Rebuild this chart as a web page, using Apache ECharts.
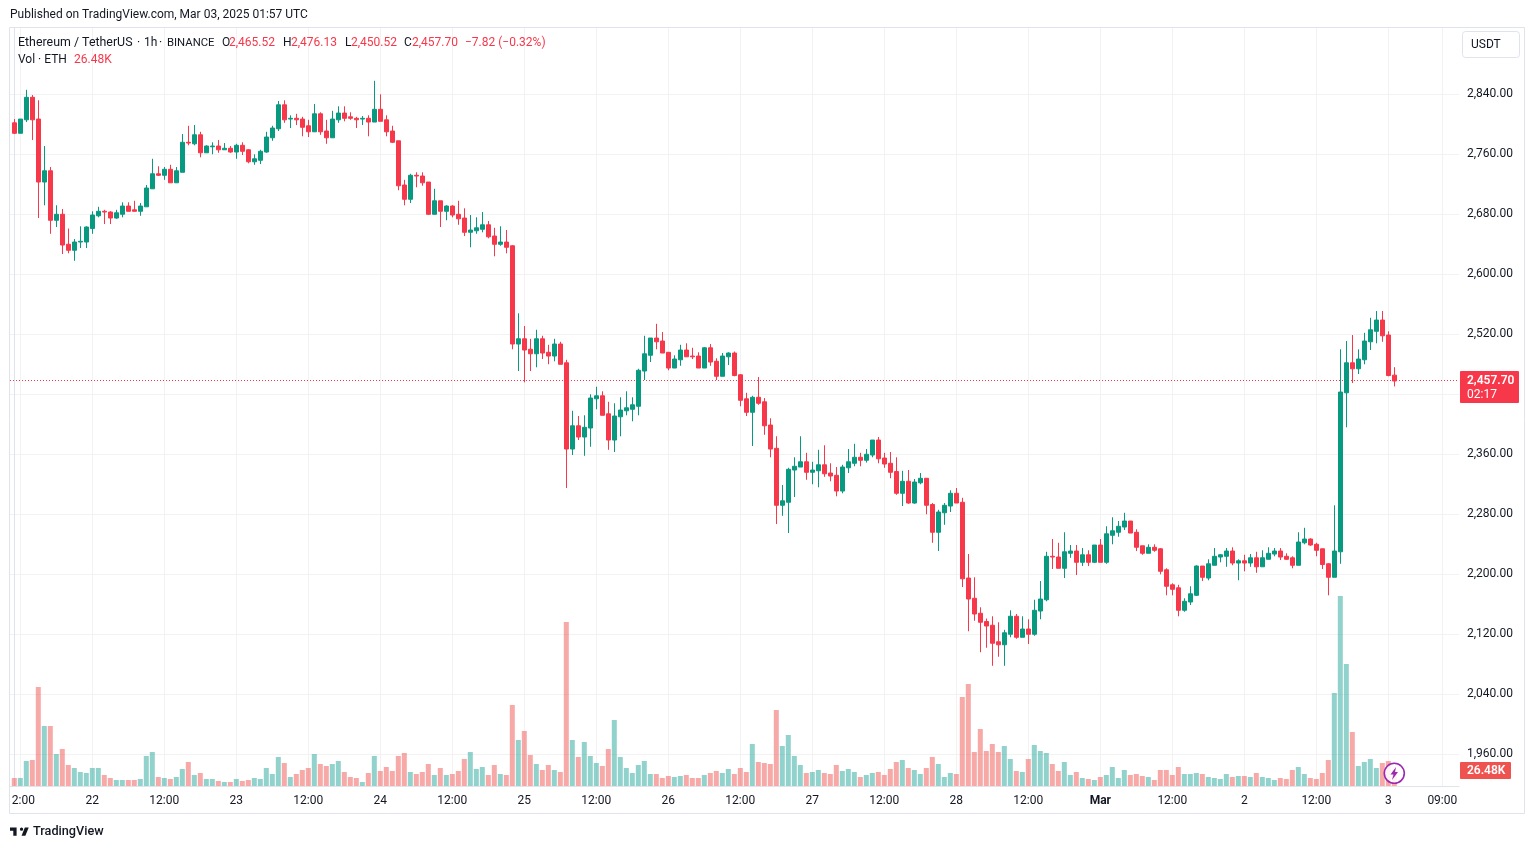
<!DOCTYPE html>
<html>
<head>
<meta charset="utf-8">
<title>ETHUSDT 1h</title>
<script src="https://cdn.jsdelivr.net/npm/echarts@6/dist/echarts.min.js"></script>
<style>
  html, body { margin: 0; padding: 0; background: #fff; }
  #main { width: 1534px; height: 849px; }
</style>
</head>
<body>
<div id="main"></div>
<script>
// ETHUSDT 1h candles, one per hour, index 0 = Feb 21 11:00
var opens = [
  2802,2788,2806,2836,2807,2723,2738,2672,2680,2640,
  2632,2643,2643,2661,2678,2684,2683,2675,2680,2691,
  2686,2684,2690,2714,2734,2732,2740,2722,2736,2776,
  2774,2786,2762,2770,2771,2766,2768,2763,2772,2766,
  2750,2752,2763,2782,2794,2826,2807,2808,2807,2798,
  2790,2814,2791,2782,2806,2815,2810,2808,2807,2808,
  2803,2820,2806,2791,2778,2719,2700,2732,2731,2723,
  2680,2698,2684,2691,2680,2675,2656,2658,2660,2666,
  2651,2640,2643,2638,2507,2514,2500,2494,2514,2496,
  2491,2507,2482,2367,2398,2383,2395,2434,2438,2414,
  2379,2410,2418,2420,2424,2471,2492,2515,2511,2496,
  2475,2486,2499,2491,2491,2475,2502,2484,2464,2490,
  2495,2466,2434,2416,2436,2430,2399,2368,2292,2296,
  2339,2343,2350,2336,2338,2346,2335,2332,2311,2342,
  2348,2356,2352,2359,2379,2355,2348,2337,2308,2324,
  2295,2322,2328,2293,2256,2282,2291,2308,2296,2195,
  2168,2148,2137,2132,2110,2106,2120,2144,2116,2127,
  2120,2151,2166,2224,2223,2208,2228,2231,2216,2226,
  2216,2239,2216,2252,2256,2263,2271,2256,2238,2228,
  2236,2234,2206,2186,2182,2152,2163,2172,2211,2195,
  2212,2223,2224,2231,2215,2218,2215,2222,2210,2220,
  2227,2231,2224,2222,2212,2242,2247,2240,2234,2214,
  2196,2230,2442,2482,2474,2486,2510,2524,2539,2519,
  2465.52
];
var highs = [
  2807,2807,2846,2839,2832,2771,2743,2692,2687,2661,
  2647,2664,2664,2684,2690,2686,2684,2686,2696,2696,
  2698,2695,2719,2754,2744,2743,2746,2743,2787,2798,
  2799,2790,2772,2776,2779,2775,2771,2774,2776,2767,
  2760,2766,2790,2798,2831,2832,2812,2814,2810,2806,
  2827,2816,2806,2818,2824,2824,2816,2810,2811,2812,
  2858,2840,2812,2798,2778,2726,2734,2736,2736,2723,
  2714,2698,2692,2692,2698,2688,2679,2676,2683,2671,
  2662,2664,2659,2639,2548,2531,2514,2526,2518,2506,
  2514,2510,2486,2418,2411,2412,2440,2450,2444,2430,
  2428,2436,2444,2436,2474,2518,2515,2534,2523,2496,
  2492,2506,2508,2502,2496,2503,2507,2488,2495,2496,
  2497,2467,2442,2438,2463,2435,2408,2384,2319,2342,
  2356,2384,2362,2350,2366,2372,2348,2343,2346,2367,
  2374,2362,2367,2379,2383,2362,2363,2356,2338,2339,
  2327,2335,2328,2295,2286,2295,2312,2315,2302,2227,
  2196,2156,2141,2144,2136,2126,2152,2147,2144,2140,
  2166,2191,2230,2247,2242,2256,2239,2239,2235,2232,
  2239,2247,2264,2276,2271,2282,2271,2260,2238,2240,
  2240,2235,2208,2188,2186,2168,2184,2212,2211,2220,
  2235,2227,2235,2236,2220,2226,2227,2230,2232,2236,
  2235,2235,2228,2224,2256,2262,2248,2242,2234,2215,
  2292,2500,2511,2519,2500,2522,2542,2551,2551,2524,
  2476.13
];
var lows = [
  2787,2788,2803,2779,2675,2692,2654,2663,2627,2628,
  2618,2635,2635,2654,2676,2667,2667,2674,2676,2684,
  2684,2678,2690,2714,2731,2726,2722,2722,2736,2772,
  2772,2756,2762,2760,2762,2766,2762,2754,2759,2748,
  2746,2747,2762,2778,2791,2802,2795,2799,2784,2783,
  2790,2786,2774,2782,2802,2804,2806,2795,2799,2784,
  2803,2804,2784,2775,2712,2692,2695,2716,2718,2679,
  2680,2663,2672,2676,2666,2651,2636,2654,2656,2648,
  2624,2638,2628,2500,2471,2456,2471,2476,2487,2480,
  2484,2480,2315,2359,2379,2358,2370,2420,2412,2366,
  2363,2384,2412,2404,2412,2459,2483,2500,2495,2472,
  2475,2478,2490,2487,2475,2475,2478,2459,2464,2479,
  2464,2424,2411,2371,2426,2386,2356,2267,2278,2255,
  2303,2343,2326,2320,2316,2330,2324,2304,2308,2335,
  2344,2344,2349,2356,2348,2342,2328,2306,2291,2294,
  2294,2320,2280,2242,2231,2266,2283,2295,2183,2124,
  2138,2096,2102,2078,2090,2078,2116,2114,2116,2107,
  2118,2140,2164,2207,2208,2195,2222,2199,2211,2211,
  2215,2216,2214,2240,2250,2259,2255,2231,2226,2228,
  2230,2200,2172,2172,2144,2150,2159,2171,2191,2192,
  2212,2216,2210,2212,2192,2204,2210,2202,2210,2220,
  2224,2219,2219,2208,2212,2240,2238,2224,2207,2172,
  2196,2214,2396,2455,2467,2480,2499,2508,2510,2464,
  2450.52
];
var closes = [
  2788,2807,2836,2806,2723,2738,2672,2680,2639,2632,
  2643,2644,2663,2679,2684,2683,2675,2682,2691,2684,
  2684,2691,2715,2734,2732,2740,2722,2738,2776,2775,
  2786,2762,2771,2771,2766,2768,2763,2772,2764,2750,
  2754,2764,2783,2795,2826,2806,2808,2806,2796,2790,
  2814,2790,2782,2807,2815,2808,2808,2806,2808,2803,
  2820,2804,2790,2776,2718,2700,2732,2731,2722,2680,
  2698,2684,2691,2679,2674,2656,2659,2662,2666,2650,
  2640,2643,2636,2507,2514,2499,2494,2514,2495,2491,
  2507,2480,2367,2398,2383,2396,2435,2438,2412,2379,
  2411,2419,2422,2426,2472,2494,2515,2510,2495,2475,
  2487,2499,2490,2490,2475,2502,2483,2464,2491,2495,
  2465,2432,2416,2436,2428,2398,2367,2292,2298,2340,
  2344,2350,2336,2339,2346,2334,2331,2311,2343,2350,
  2356,2352,2360,2379,2354,2347,2336,2308,2324,2295,
  2323,2328,2292,2256,2283,2292,2308,2295,2194,2167,
  2147,2136,2131,2108,2106,2122,2144,2116,2127,2120,
  2152,2167,2224,2223,2208,2230,2231,2216,2226,2216,
  2239,2216,2254,2258,2264,2271,2255,2236,2228,2236,
  2232,2204,2184,2180,2152,2164,2174,2211,2196,2214,
  2224,2226,2231,2215,2218,2215,2222,2210,2222,2228,
  2231,2223,2220,2212,2243,2247,2239,2232,2213,2196,
  2231,2443,2482,2474,2487,2511,2526,2539,2518,2465,
  2457.70
];
// volume in thousands of ETH
var volumes = [
  13.2,13.2,41.4,43,163.9,99.3,99.3,53,61.2,34.8,
  29.8,23.2,21.5,29.8,29.8,18.2,13.2,9.9,9.9,9.9,
  9.9,11.6,49.7,56.3,14.9,13.2,11.6,14.9,28.1,39.7,
  18.2,21.5,11.6,11.6,8.3,6.6,6.6,11.6,8.3,9.9,
  13.2,11.6,29.8,19.9,48,38.1,14.9,19.9,26.5,29.8,
  53,36.4,33.1,36.4,41.4,23.2,14.9,13.2,6.6,21.5,
  49.7,24.8,31.4,24.8,49.7,54.6,23.2,19.9,23.2,36.4,
  18.2,29.8,18.2,19.9,24.8,44.7,56.3,28.1,31.4,18.2,
  34.8,19.9,18.2,134.1,76.1,91,51.3,36.4,26.5,34.8,
  26.5,23.2,271.4,76.1,48,72.8,49.7,38.1,33.1,61.2,
  109.2,48,29.8,21.5,34.8,41.4,19.9,19.9,13.2,16.6,
  14.9,16.6,18.2,13.2,13.2,18.2,21.5,24.8,21.5,28.1,
  19.9,29.8,23.2,69.5,39.7,38.1,36.4,125.8,66.2,84.4,
  49.7,34.8,21.5,23.2,26.5,21.5,19.9,34.8,24.8,28.1,
  23.2,14.9,18.2,21.5,23.2,18.2,28.1,39.7,43,29.8,
  26.5,19.9,29.8,48,36.4,14.9,21.5,19.9,147.3,168.8,
  56.3,94.3,57.9,69.5,56.3,66.2,44.7,24.8,23.2,44.7,
  67.9,57.9,54.6,36.4,24.8,39.7,18.2,23.2,13.2,11.6,
  9.9,14.9,18.2,31.4,13.2,26.5,18.2,19.9,16.6,14.9,
  9.9,26.5,26.5,18.2,31.4,19.9,19.9,21.5,19.9,14.9,
  13.2,11.6,19.9,14.9,16.6,16.6,14.9,21.5,14.9,13.2,
  9.9,13.2,11.6,26.5,31.4,19.9,13.2,11.6,21.5,43,
  153.9,314.5,201.9,89.4,33.1,39.7,44.7,29.8,38.1,41.4,
  26.48
];

var priceTicks = [1960, 2040, 2120, 2200, 2280, 2360, 2440, 2520, 2600, 2680, 2760, 2840];
var timeTicks = [1, 13, 25, 37, 49, 61, 73, 85, 97, 109, 121, 133, 145, 157, 169, 181, 193, 205, 217, 229, 238];
var timeLabels = ['2:00', '22', '12:00', '23', '12:00', '24', '12:00', '25', '12:00', '26', '12:00', '27', '12:00', '28', '12:00', 'Mar', '12:00', '2', '12:00', '3', '09:00'];

var UP = '#089981';
var DOWN = '#F7374A';
var TEXT = '#131722';
var BORDER = '#E0E3EB';
var GRIDLINE = '#F2F2F3';
var FONT = 'Roboto';

var chart = echarts.init(document.getElementById('main'), null, { renderer: 'canvas' });

var candleData = opens.map(function (o, i) {
  return [i, o, closes[i], lows[i], highs[i]];
});
var volumeData = volumes.map(function (v, i) {
  return {
    value: [i, v],
    itemStyle: { color: closes[i] >= opens[i] ? 'rgba(38,166,154,0.5)' : 'rgba(239,83,80,0.5)' }
  };
});

// the first label is "12:00" cut by the pane edge, so its remainder sits a bit to the right
var labelHours = timeTicks.slice();
labelHours[0] += 0.5;

var lastClose = closes[closes.length - 1];
var lastVolume = volumes[volumes.length - 1];

function formatPrice(v) {
  return v.toLocaleString('en-US', { minimumFractionDigits: 2, maximumFractionDigits: 2 });
}

chart.setOption({
  animation: false,
  backgroundColor: '#fff',
  textStyle: { fontFamily: FONT },
  grid: { left: 10, right: 75, top: 28, bottom: 63, containLabel: false },
  xAxis: {
    type: 'value',
    min: -0.717,
    max: 240.78,
    axisLine: { show: true, onZero: false, lineStyle: { color: BORDER, width: 1 } },
    axisTick: { show: false, customValues: timeTicks },
    splitLine: { show: true, lineStyle: { color: GRIDLINE, width: 1 } },
    axisLabel: {
      customValues: labelHours,
      color: TEXT,
      fontSize: 12,
      fontFamily: FONT,
      margin: 9,
      hideOverlap: false,
      showMinLabel: true,
      showMaxLabel: true,
      formatter: function (v) {
        var t = timeLabels[labelHours.indexOf(v)];
        return t === 'Mar' ? '{b|Mar}' : t;
      },
      rich: { b: { fontWeight: 700, fontSize: 12, color: TEXT, fontFamily: FONT } }
    }
  },
  yAxis: [
    {
      type: 'value',
      position: 'right',
      min: 1917.7,
      max: 2928.4,
      axisLine: { show: true, lineStyle: { color: BORDER, width: 1 } },
      axisTick: { show: false, customValues: priceTicks },
      splitLine: { show: true, lineStyle: { color: GRIDLINE, width: 1 } },
      axisLabel: {
        customValues: priceTicks,
        color: TEXT,
        fontSize: 12,
        fontFamily: FONT,
        margin: 8,
        formatter: formatPrice
      }
    },
    {
      type: 'value',
      show: false,
      position: 'right',
      min: 0,
      max: 1254.5,
      splitLine: { show: false }
    }
  ],
  series: [
    {
      name: 'Vol',
      type: 'bar',
      xAxisIndex: 0,
      yAxisIndex: 1,
      barWidth: 5,
      silent: true,
      data: volumeData
    },
    {
      name: 'ETHUSDT',
      type: 'candlestick',
      xAxisIndex: 0,
      yAxisIndex: 0,
      barWidth: 5,
      silent: true,
      encode: { x: 0, y: [1, 2, 3, 4] },
      itemStyle: {
        color: UP,
        color0: DOWN,
        borderColor: UP,
        borderColor0: DOWN,
        borderWidth: 1
      },
      data: candleData
    }
  ]
});

function txt(x, y, text, color, extra) {
  return {
    type: 'text',
    x: x,
    y: y,
    silent: true,
    z: 20,
    style: Object.assign({
      text: text,
      fill: color || TEXT,
      font: '12px ' + FONT,
      verticalAlign: 'middle'
    }, extra || {})
  };
}

// TradingView mark, drawn on a 36 unit wide design grid
function logoPoints(points) {
  return points.map(function (p) {
    return [10 + (p[0] - 2) * 0.55, 827.5 + (p[1] - 6) * 0.55];
  });
}

var priceY = chart.convertToPixel({ yAxisIndex: 0 }, lastClose);
var volY = chart.convertToPixel({ yAxisIndex: 1 }, lastVolume);
var lineY = Math.round(priceY) - 0.5;

chart.setOption({
  graphic: [
    // frame around the panes
    { type: 'rect', silent: true, z: 1, shape: { x: 9.5, y: 27.5, width: 1515, height: 786 },
      style: { fill: 'none', stroke: BORDER, lineWidth: 1 } },

    // last price line, under the candles
    { type: 'line', silent: true, z: 1, shape: { x1: 10, y1: lineY, x2: 1459, y2: lineY },
      style: { stroke: DOWN, lineWidth: 1, lineDash: [1, 2] } },

    txt(10, 15, 'Published on TradingView.com, Mar 03, 2025 01:57 UTC', TEXT),

    // legend
    txt(18, 43, 'Ethereum / TetherUS', TEXT, { font: '12.4px ' + FONT }),
    txt(137, 43, '·', TEXT),
    txt(144, 43, '1h', TEXT),
    txt(159, 43, '·', TEXT),
    txt(167, 43, 'BINANCE', TEXT, { font: '11.3px ' + FONT }),
    txt(222, 43, 'O', TEXT), txt(229, 43, '2,465.52', DOWN),
    txt(283, 43, 'H', TEXT), txt(291, 43, '2,476.13', DOWN),
    txt(345, 43, 'L', TEXT), txt(351, 43, '2,450.52', DOWN),
    txt(404, 43, 'C', TEXT), txt(412, 43, '2,457.70', DOWN),
    txt(465, 43, '−7.82 (−0.32%)', DOWN),
    txt(18, 60, 'Vol · ETH', TEXT),
    txt(74, 60, '26.48K', DOWN),

    // currency button
    { type: 'rect', silent: true, z: 20, shape: { x: 1462.5, y: 31.5, width: 57, height: 26, r: 3 },
      style: { fill: '#fff', stroke: BORDER, lineWidth: 1 } },
    txt(1471, 45, 'USDT', TEXT),

    // last price tag
    { type: 'rect', silent: true, z: 20, shape: { x: 1460, y: priceY - 10, width: 59, height: 32, r: 1 },
      style: { fill: DOWN } },
    txt(1467, priceY - 0.5, formatPrice(lastClose), '#fff', { font: '600 12px ' + FONT }),
    txt(1467, priceY + 13.5, '02:17', '#fff'),

    // volume tag
    { type: 'rect', silent: true, z: 20, shape: { x: 1460, y: volY - 8, width: 51, height: 17, r: 1 },
      style: { fill: '#EF5350' } },
    txt(1467, volY + 0.5, '26.48K', '#fff', { font: '600 12px ' + FONT }),

    // flash badge
    { type: 'circle', silent: true, z: 20, shape: { cx: 1394.3, cy: 773.3, r: 10 },
      style: { fill: 'rgba(255,255,255,0.85)', stroke: '#9C27B0', lineWidth: 1.6 } },
    { type: 'polygon', silent: true, z: 21,
      shape: { points: [[1396, 767], [1390.5, 774.5], [1393.5, 774.5], [1392, 780], [1398, 772], [1395, 772]] },
      style: { fill: '#9C27B0' } },

    // TradingView mark
    { type: 'polygon', silent: true, z: 20,
      shape: { points: logoPoints([[2, 6], [14, 6], [14, 21], [8, 21], [8, 12], [2, 12]]) },
      style: { fill: TEXT } },
    { type: 'polygon', silent: true, z: 20,
      shape: { points: logoPoints([[29, 6], [36, 6], [30, 21], [23, 21]]) },
      style: { fill: TEXT } },
    { type: 'circle', silent: true, z: 20,
      shape: { cx: logoPoints([[23, 9]])[0][0], cy: logoPoints([[23, 9]])[0][1], r: 1.65 },
      style: { fill: TEXT } },
    txt(33, 832, 'TradingView', TEXT, { font: '500 12.7px ' + FONT })
  ]
});
</script>
</body>
</html>
